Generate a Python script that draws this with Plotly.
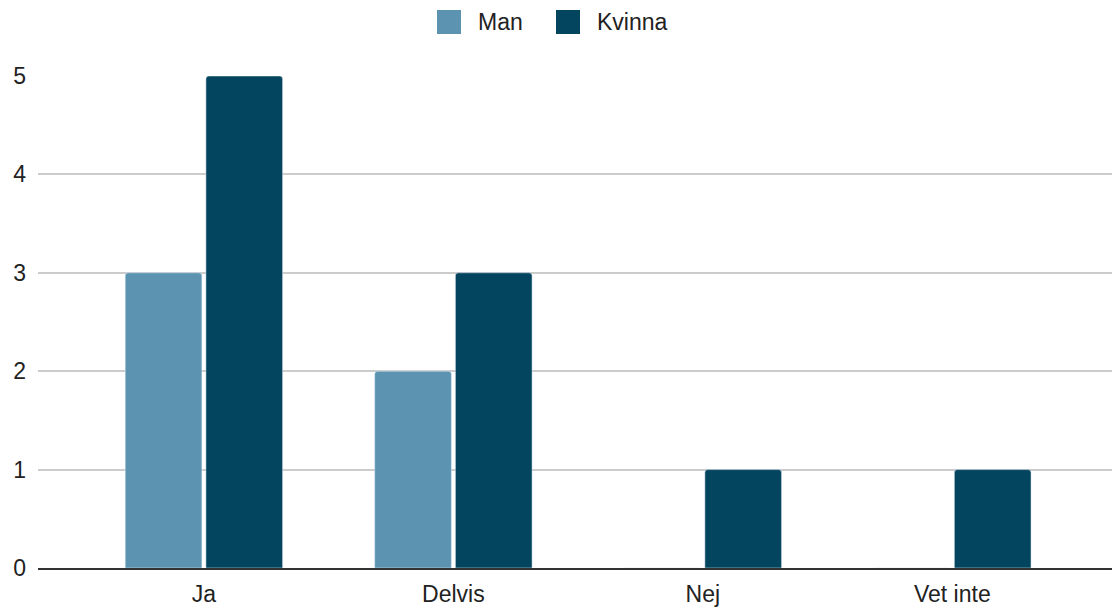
import plotly.graph_objects as go

categories = ["Ja", "Delvis", "Nej", "Vet inte"]
man = [3, 2, 0, 0]
kvinna = [5, 3, 1, 1]
y_ticks = [0, 1, 2, 3, 4, 5]
series_names = ["Man", "Kvinna"]
colors = ["#5b93b0", "#03455f"]

fig = go.Figure()
fig.add_trace(go.Bar(name=series_names[0], x=categories, y=man, marker_color=colors[0], showlegend=False))
fig.add_trace(go.Bar(name=series_names[1], x=categories, y=kvinna, marker_color=colors[1], showlegend=False))

# custom legend (larger swatches like the reference)
W = 1112
H = 607
legend_x = [437, 556]
for name, col, lx in zip(series_names, colors, legend_x):
    fig.add_shape(type="rect", xref="paper", yref="paper",
                  x0=(lx - 38) / (W - 38), x1=(lx + 24 - 38) / (W - 38),
                  y0=(H - 39 - 34) / (H - 39 - 76),
                  y1=(H - 39 - 10) / (H - 39 - 76),
                  fillcolor=col, line=dict(width=0), layer="above")
    fig.add_annotation(xref="paper", yref="paper",
                       x=(lx + 39 - 38) / (W - 38), y=(H - 39 - 22) / (H - 39 - 76),
                       xanchor="left", yanchor="middle", text=name, showarrow=False,
                       font=dict(size=23, color="#222222"))

fig.update_layout(
    width=W, height=H,
    margin=dict(l=38, r=0, t=76, b=39, autoexpand=False),
    paper_bgcolor="white", plot_bgcolor="white",
    font=dict(family="Liberation Sans, Arial", size=23, color="#222222"),
    barmode="group", bargap=0.353, bargroupgap=0.05, barcornerradius=3,
    showlegend=False,
    xaxis=dict(range=[-0.665, 3.64], showgrid=False, showline=True,
               linecolor="#333333", linewidth=2, ticks="", ticklabelstandoff=4),
    yaxis=dict(range=[0, 5], tickvals=y_ticks, showgrid=True, gridcolor="#cccccc",
               gridwidth=1.5, zeroline=False, ticks="", ticklabelstandoff=11),
)
fig.write_html("out.html")
